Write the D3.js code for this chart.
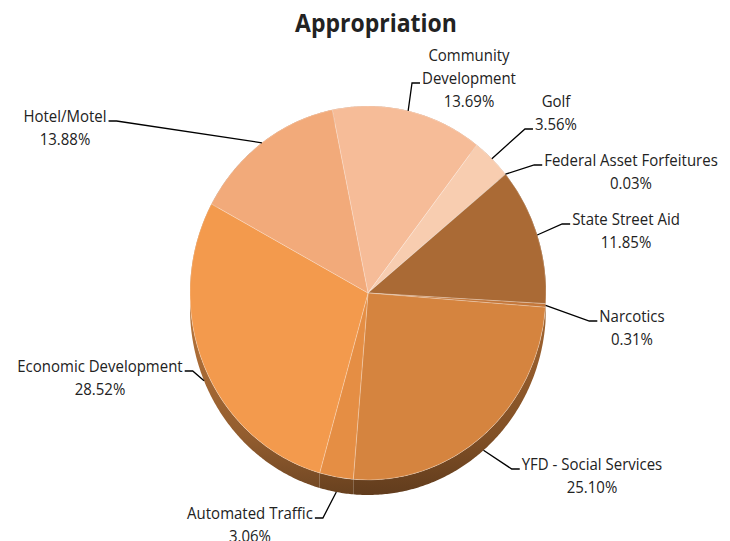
<!DOCTYPE html>
<html>
<head>
<meta charset="utf-8">
<script src="https://cdn.jsdelivr.net/npm/d3@7"></script>
<style>
  html, body { margin: 0; padding: 0; background: #fff; }
  svg { display: block; }
  text { font-family: "Open Sans", "Noto Sans", sans-serif; fill: #222; }
</style>
</head>
<body>
<svg id="chart" width="719" height="541"></svg>
<script>
// ---- data ----
const title = "Appropriation";
const categories = ["Community Development", "Golf", "Federal Asset Forfeitures", "State Street Aid",
  "Narcotics", "YFD - Social Services", "Automated Traffic", "Economic Development", "Hotel/Motel"];
const values = [13.69, 3.56, 0.03, 11.85, 0.31, 25.10, 3.06, 28.52, 13.88];
const labelLines = [
  ["Community", "Development", "13.69%"],
  ["Golf", "3.56%"],
  ["Federal Asset Forfeitures", "0.03%"],
  ["State Street Aid", "11.85%"],
  ["Narcotics", "0.31%"],
  ["YFD - Social Services", "25.10%"],
  ["Automated Traffic", "3.06%"],
  ["Economic Development", "28.52%"],
  ["Hotel/Motel", "13.88%"]
];
const colors = ["#F6BC98", "#F8CDB0", "#B06E38", "#AA6A35", "#C4773A", "#D5843F", "#E58E44", "#F39A4D", "#F2AA7A"];

// ---- layout (label placement) ----
const labelLayout = [
  { x: 469, y: 61, attach: 1, side: "L" },
  { x: 556, y: 107, attach: 1, side: "L" },
  { x: 631, y: 166, attach: 0, side: "L" },
  { x: 626, y: 225, attach: 0, side: "L" },
  { x: 632, y: 322, attach: 0, side: "L" },
  { x: 592, y: 470, attach: 0, side: "L" },
  { x: 250, y: 519, attach: 0, side: "R" },
  { x: 100, y: 372, attach: 0, side: "R" },
  { x: 65, y: 122, attach: 0, side: "R" }
];

const cx = 368, cy = 293, R = 187, sx = 178 / 187, depth = 15;
const lineH = 23, vStretch = 1.1;
const startAngle = -0.2025;

const svg = d3.select("#chart");
const defs = svg.append("defs");

const data = categories.map((c, i) => ({ name: c, value: values[i], color: colors[i], lines: labelLines[i], lay: labelLayout[i] }));

const pie = d3.pie().sort(null).value(d => d.value)
  .startAngle(startAngle).endAngle(startAngle + 2 * Math.PI);
const arcs = pie(data);

const g = svg.append("g").attr("transform", `translate(${cx},${cy}) scale(${sx},1)`);

// side gradients
arcs.forEach((a, i) => {
  const base = d3.color(a.data.color);
  const gr = defs.append("linearGradient").attr("id", "side" + i)
    .attr("gradientUnits", "userSpaceOnUse")
    .attr("x1", 0).attr("y1", 0).attr("x2", 0).attr("y2", R + depth);
  gr.append("stop").attr("offset", "0%").attr("stop-color", base.darker(0.7));
  gr.append("stop").attr("offset", "70%").attr("stop-color", base.darker(1.4));
  gr.append("stop").attr("offset", "100%").attr("stop-color", base.darker(2.2));
});

// side walls
const pt = (ang, off) => [R * Math.sin(ang), -R * Math.cos(ang) + off];
const sideLine = d3.line();
arcs.forEach((a, i) => {
  const n = Math.max(2, Math.ceil((a.endAngle - a.startAngle) / 0.01));
  const top = d3.range(n + 1).map(k => pt(a.startAngle + (a.endAngle - a.startAngle) * k / n, 0));
  const bot = d3.range(n + 1).map(k => pt(a.endAngle - (a.endAngle - a.startAngle) * k / n, depth));
  g.append("path").attr("d", sideLine(top.concat(bot)) + "Z")
    .attr("fill", `url(#side${i})`);
});

// top faces
const arc = d3.arc().innerRadius(0).outerRadius(R);
g.selectAll("path.top").data(arcs).enter().append("path")
  .attr("class", "top")
  .attr("d", arc)
  .attr("fill", d => d.data.color)
  .attr("stroke", "rgba(255,255,255,0.3)")
  .attr("stroke-width", 0.8)
  .attr("vector-effect", "non-scaling-stroke");

// title
svg.append("text").attr("x", 376).attr("y", 0).attr("text-anchor", "middle")
  .attr("transform", `translate(0,32) scale(1,${vStretch})`)
  .style("font-size", "23px").style("font-weight", "700").text(title);

// labels + leaders
const lg = svg.append("g");
arcs.forEach(a => {
  const L = a.data.lay;
  const t = lg.append("text").attr("text-anchor", "middle").style("font-size", "15px")
    .attr("transform", `translate(0,${L.y}) scale(1,${vStretch})`);
  a.data.lines.forEach((ln, k) => {
    t.append("tspan").attr("x", L.x).attr("y", k * lineH / vStretch).text(ln);
  });
  const tsp = t.selectAll("tspan").nodes()[L.attach];
  const w = tsp.getComputedTextLength();
  const mid = (a.startAngle + a.endAngle) / 2;
  const ex = cx + sx * R * Math.sin(mid);
  const ey = cy - R * Math.cos(mid) + (Math.cos(mid) < -0.2 ? depth : 0);
  const ly = L.y + L.attach * lineH - 1;
  let p1, p2;
  if (L.side === "L") {
    p1 = [L.x - w / 2 - 2, ly];
    p2 = [L.x - w / 2 - 10, ly];
  } else {
    p1 = [L.x + w / 2 + 2, ly];
    p2 = [L.x + w / 2 + 10, ly];
  }
  lg.append("path").attr("d", d3.line()([p1, p2, [ex, ey]]))
    .attr("fill", "none").attr("stroke", "#000").attr("stroke-width", 1.3);
});
</script>
</body>
</html>
